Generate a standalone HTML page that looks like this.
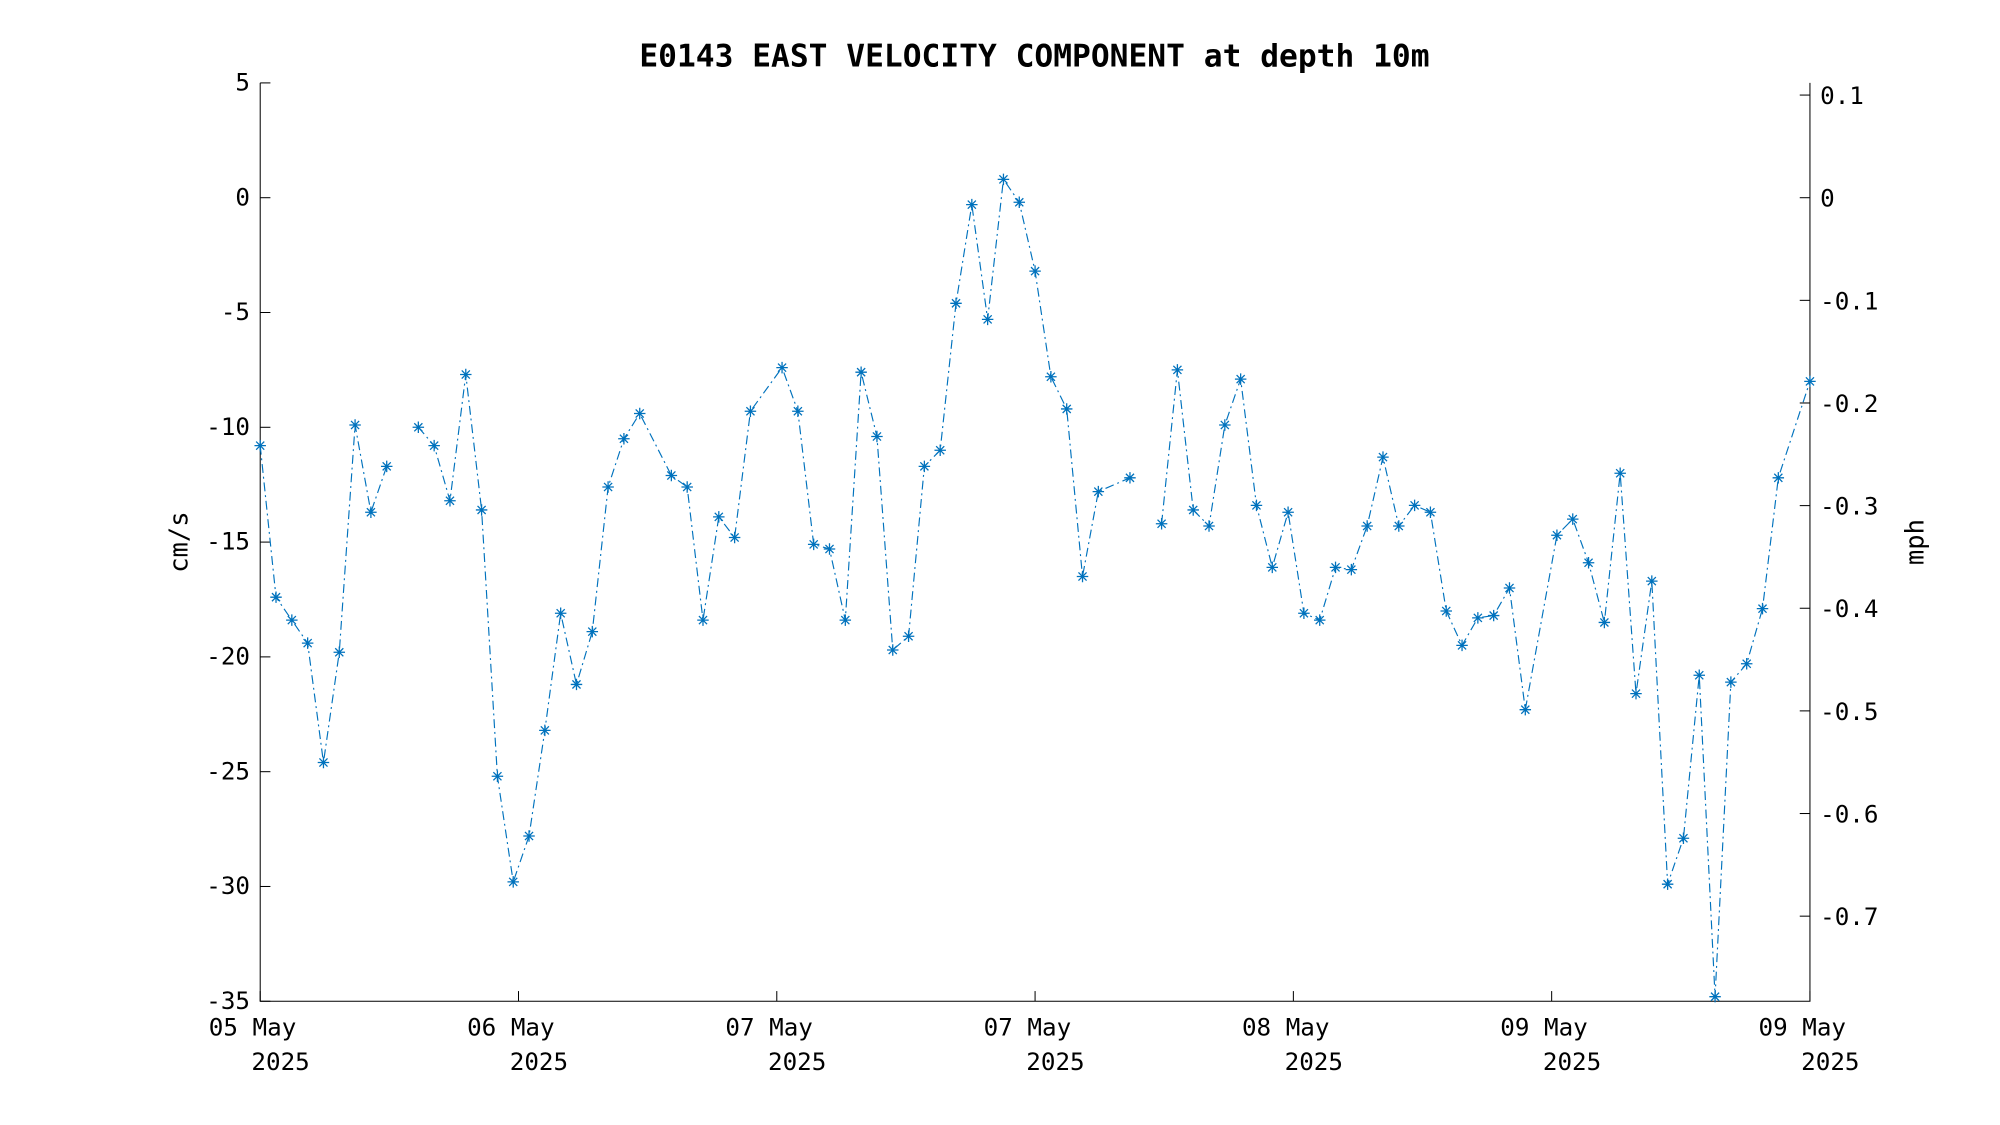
<!DOCTYPE html>
<html><head><meta charset="utf-8"><style>
html,body{margin:0;padding:0;background:#fff;}
svg{display:block;}
text{font-family:"DejaVu Sans Mono","Liberation Mono",monospace;fill:#000;}
</style></head><body>
<svg id="chart" width="2000" height="1125" viewBox="0 0 1568 882" preserveAspectRatio="none" xmlns="http://www.w3.org/2000/svg">
<rect width="1568" height="882" fill="#fff"/>
<text x="811" y="52" text-anchor="middle" font-size="24.5" font-weight="bold">E0143 EAST VELOCITY COMPONENT at depth 10m</text>
<text transform="translate(147,425) rotate(-90)" text-anchor="middle" font-size="20">cm/s</text>
<text transform="translate(1508,425) rotate(-90)" text-anchor="middle" font-size="20">mph</text>
<g id="axes"></g>
<g id="series"></g>
</svg>
<script>
const sampleIdx = [0,1,2,3,4,5,6,7,8,9,10,11,12,13,14,15,16,17,18,19,20,21,22,23,24,26,27,28,29,30,31,33,34,35,36,37,38,39,40,41,42,43,44,45,46,47,48,49,50,51,52,53,55,56,57,58,59,60,61,62,63,64,65,66,67,68,69,70,71,72,73,74,75,76,77,78,79,80,82,83,84,85,86,87,88,89,90,91,92,93,94,95,96,98];
const velocities = [-10.8,-17.4,-18.4,-19.4,-24.6,-19.8,-9.9,-13.7,-11.7,null,-10.0,-10.8,-13.2,-7.7,-13.6,-25.2,-29.8,-27.8,-23.2,-18.1,-21.2,-18.9,-12.6,-10.5,-9.4,-12.1,-12.6,-18.4,-13.9,-14.8,-9.3,-7.4,-9.3,-15.1,-15.3,-18.4,-7.6,-10.4,-19.7,-19.1,-11.7,-11.0,-4.6,-0.3,-5.3,0.8,-0.2,-3.2,-7.8,-9.2,-16.5,-12.8,-12.2,null,-14.2,-7.5,-13.6,-14.3,-9.9,-7.9,-13.4,-16.1,-13.7,-18.1,-18.4,-16.1,-16.2,-14.3,-11.3,-14.3,-13.4,-13.7,-18.0,-19.5,-18.3,-18.2,-17.0,-22.3,-14.7,-14.0,-15.9,-18.5,-12.0,-21.6,-16.7,-29.9,-27.9,-20.8,-34.8,-21.1,-20.3,-17.9,-12.2,-8.0];
const yTicks = [5,0,-5,-10,-15,-20,-25,-30,-35];
const mphTicks = [0.1,0,-0.1,-0.2,-0.3,-0.4,-0.5,-0.6,-0.7];
const xTickLabels = ["05 May","06 May","07 May","07 May","08 May","09 May","09 May"];
const xTickYear = ["2025","2025","2025","2025","2025","2025","2025"];

const L=204,R=1419,T=65,B=785,Y0=5,Y1=-35,NMAX=98;
const NS="http://www.w3.org/2000/svg";
function yS(v){return T+(Y0-v)/(Y0-Y1)*(B-T);}
function xS(i){return L+i/NMAX*(R-L);}
function el(tag,attrs,parent){const e=document.createElementNS(NS,tag);for(const k in attrs)e.setAttribute(k,attrs[k]);parent.appendChild(e);return e;}
const ax=document.getElementById('axes');
const sr=document.getElementById('series');
const box=el('path',{d:`M${L},${T}V${B}H${R}V${T}`,fill:'none',stroke:'#000','stroke-width':0.8},ax);


yTicks.forEach(v=>{
  const y=yS(v);
  const t=el('line',{x1:L,x2:L+8,y1:y,y2:y,stroke:'#000','stroke-width':0.8},ax);
  
  
  const lb=el('text',{x:L-8,y:y+6,'text-anchor':'end','font-size':19},ax);
  
  
  lb.textContent=v;
});
mphTicks.forEach(m=>{
  const y=yS(m/0.0223694);
  const t=el('line',{x1:R-8,x2:R,y1:y,y2:y,stroke:'#000','stroke-width':0.8},ax);
  
  
  const lb=el('text',{x:R+8,y:y+7,'text-anchor':'start','font-size':19},ax);
  
  
  lb.textContent=(m===0?'0':String(m));
});
xTickLabels.forEach((s,k)=>{
  const x=L+k*(R-L)/(xTickLabels.length-1);
  const t=el('line',{x1:x,x2:x,y1:B,y2:B-8,stroke:'#000','stroke-width':0.8},ax);
  
  
  const lb=el('text',{x:x-6,y:812,'text-anchor':'middle','font-size':19},ax);
  
  
  lb.textContent=s;
  const yr=el('text',{x:x+16,y:839,'text-anchor':'middle','font-size':19},ax);
  
  
  yr.textContent=xTickYear[k];
});
let d='',pen=false;
sampleIdx.forEach((i,k)=>{
  const v=velocities[k];
  if(v===null){pen=false;return;}
  d+=(pen?'L':'M')+xS(i).toFixed(2)+','+yS(v).toFixed(2);
  pen=true;
});
const line=el('path',{d:d,fill:'none',stroke:'#0072BD','stroke-width':0.9,'stroke-dasharray':'7,3,1.5,3'},sr);


sampleIdx.forEach((i,k)=>{
  const v=velocities[k];
  if(v===null)return;
  const x=xS(i),y=yS(v),r=4.5,q=r*0.707;
  const m=el('path',{d:`M${x-r},${y}H${x+r}M${x},${y-r}V${y+r}M${x-q},${y-q}L${x+q},${y+q}M${x-q},${y+q}L${x+q},${y-q}`,stroke:'#0072BD','stroke-width':1,fill:'none'},sr);
  
  
});
</script>
</body></html>
